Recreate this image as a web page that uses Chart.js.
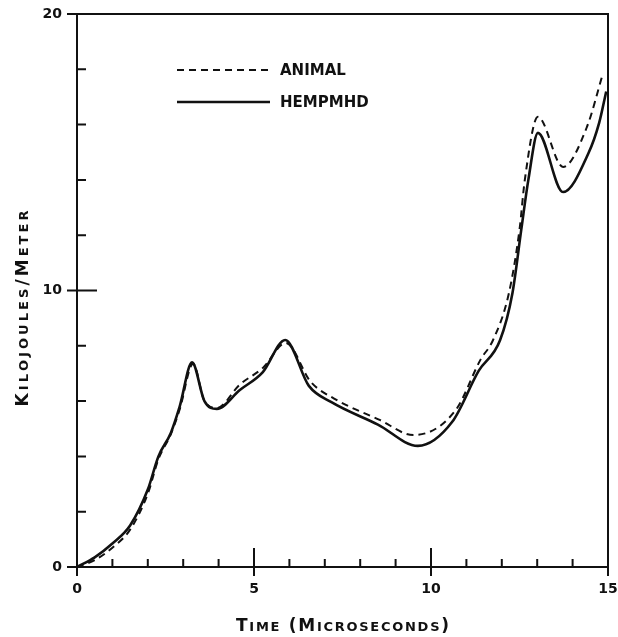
<!DOCTYPE html>
<html>
<head>
<meta charset="utf-8">
<script src="https://cdn.jsdelivr.net/npm/chart.js@4.4.1/dist/chart.umd.min.js"></script>
<style>
  html, body { margin: 0; padding: 0; background: #fff; }
  #wrap { width: 618px; height: 637px; }
</style>
</head>
<body>
<div id="wrap"><canvas id="energyChart"></canvas></div>
<script>
// values (time in microseconds, kJ/m)
const animalTime   = [0, 0.5, 1.0, 1.5, 2.0, 2.3, 2.65, 2.9, 3.28, 3.6, 3.95, 4.6, 5.25, 5.9, 6.6, 7.25, 8.55, 9.5, 10.7, 11.4, 11.75, 12.2, 12.5, 12.65, 13.02, 13.73, 14.4, 14.86];
const animalEnergy = [0, 0.25, 0.7, 1.35, 2.65, 3.9, 4.8, 5.7, 7.35, 6.0, 5.75, 6.6, 7.2, 8.1, 6.7, 6.1, 5.32, 4.77, 5.68, 7.5, 8.2, 9.9, 12.2, 14.0, 16.28, 14.47, 15.9, 17.86];

const hempTime   = [0, 0.5, 1.0, 1.5, 2.0, 2.3, 2.65, 2.9, 3.25, 3.6, 3.95, 4.6, 5.25, 5.88, 6.55, 7.2, 8.5, 9.63, 10.6, 11.35, 11.95, 12.3, 12.55, 12.75, 13.02, 13.73, 14.45, 14.75, 14.95];
const hempEnergy = [0, 0.35, 0.85, 1.5, 2.8, 4.0, 4.85, 5.8, 7.4, 6.0, 5.72, 6.4, 7.05, 8.21, 6.55, 5.95, 5.15, 4.38, 5.25, 7.1, 8.2, 9.9, 12.2, 14.0, 15.7, 13.56, 14.97, 16.06, 17.2];

const seriesNames = ['ANIMAL', 'HEMPMHD'];
const xLabelled = [0, 5, 10, 15];
const yLabelled = [0, 10, 20];
const xTitle = 'Time (Microseconds)';
const yTitle = 'Kilojoules/Meter';

const toPoints = (xs, ys) => xs.map((x, i) => ({ x: x, y: ys[i] }));

// small caps: capitals large, lower case drawn as small capitals
function drawSmallCaps(ctx, text, cx, cy, width, big, small) {
  const parts = [...text].map(ch => {
    const lower = ch !== ch.toUpperCase();
    return { ch: ch.toUpperCase(), font: 'bold ' + (lower ? small : big) + 'px "DejaVu Sans"' };
  });
  let natural = 0;
  parts.forEach(p => { ctx.font = p.font; p.w = ctx.measureText(p.ch).width; natural += p.w; });
  const gap = (width - natural) / (parts.length - 1);
  let x = cx - width / 2;
  ctx.textBaseline = 'alphabetic';
  ctx.textAlign = 'left';
  parts.forEach(p => {
    ctx.font = p.font;
    ctx.fillText(p.ch, x, cy + big * 0.36);
    x += p.w + gap;
  });
}

// no extra room for overhanging tick labels, the plot box is fixed
const fixBox = size => s => {
  Object.assign(s, size);
  s.paddingTop = 0; s.paddingBottom = 0; s.paddingLeft = 0; s.paddingRight = 0;
};

const frameAndTicks = {
  id: 'frameAndTicks',
  afterDraw(chart) {
    const { ctx, chartArea: a, scales: { x, y } } = chart;
    ctx.save();
    ctx.strokeStyle = '#111';
    ctx.lineWidth = 2;
    ctx.beginPath();
    ctx.moveTo(a.left, a.top); ctx.lineTo(a.right, a.top); ctx.lineTo(a.right, a.bottom + 9);
    ctx.moveTo(a.left, a.top); ctx.lineTo(a.left, a.bottom + 9);
    ctx.moveTo(a.left, a.bottom); ctx.lineTo(a.right, a.bottom);
    y.ticks.forEach(t => {
      const py = y.getPixelForValue(t.value);
      if (yLabelled.includes(t.value)) {
        ctx.moveTo(a.left - 10, py);
        ctx.lineTo(a.left + (t.value === 10 ? 20 : 0), py);
      } else {
        ctx.moveTo(a.left, py); ctx.lineTo(a.left + 9, py);
      }
    });
    x.ticks.forEach(t => {
      const px = x.getPixelForValue(t.value);
      if (xLabelled.includes(t.value)) {
        ctx.moveTo(px, a.bottom - 19); ctx.lineTo(px, a.bottom + 9);
      } else {
        ctx.moveTo(px, a.bottom - 8); ctx.lineTo(px, a.bottom);
      }
    });
    ctx.stroke();

    // legend inside the plot
    const lx = a.left + 100, len = 93;
    chart.data.datasets.forEach((ds, i) => {
      const ly = a.top + 56 + i * 32;
      ctx.beginPath();
      ctx.setLineDash(ds.borderDash || []);
      ctx.lineWidth = ds.borderWidth;
      ctx.moveTo(lx, ly); ctx.lineTo(lx + len, ly);
      ctx.stroke();
      ctx.setLineDash([]);
      ctx.fillStyle = '#111';
      ctx.font = 'bold 15px "DejaVu Sans"';
      ctx.textAlign = 'left';
      ctx.textBaseline = 'middle';
      ctx.fillText(ds.label, lx + len + 10, ly + 1);
    });

    // axis titles
    ctx.fillStyle = '#111';
    drawSmallCaps(ctx, xTitle, (a.left + a.right) / 2, 625, 213, 17, 13);
    ctx.save();
    ctx.translate(22, (a.top + a.bottom) / 2 + 18);
    ctx.rotate(-Math.PI / 2);
    drawSmallCaps(ctx, yTitle, 0, 0, 196, 17, 13);
    ctx.restore();
    ctx.restore();
  }
};

new Chart(document.getElementById('energyChart').getContext('2d'), {
  type: 'scatter',
  data: {
    datasets: [{
      label: seriesNames[0],
      data: toPoints(animalTime, animalEnergy),
      showLine: true,
      borderColor: '#111',
      borderWidth: 2,
      borderDash: [7, 5],
      pointRadius: 0,
      cubicInterpolationMode: 'monotone',
      clip: false
    }, {
      label: seriesNames[1],
      data: toPoints(hempTime, hempEnergy),
      showLine: true,
      borderColor: '#111',
      borderWidth: 2.6,
      pointRadius: 0,
      cubicInterpolationMode: 'monotone',
      clip: false
    }]
  },
  options: {
    responsive: true,
    maintainAspectRatio: false,
    animation: false,
    layout: { padding: { top: 14, right: 10, left: 0, bottom: 0 } },
    plugins: {
      legend: { display: false },
      tooltip: { enabled: false }
    },
    scales: {
      x: {
        type: 'linear',
        min: 0,
        max: 15,
        grid: { display: false, drawTicks: false },
        border: { display: false },
        ticks: {
          stepSize: 1,
          padding: 14,
          color: '#111',
          font: { family: 'DejaVu Sans', weight: 'bold', size: 14 },
          maxRotation: 0,
          callback: v => xLabelled.includes(v) ? String(v) : ''
        },
        afterFit: fixBox({ height: 70 })
      },
      y: {
        min: 0,
        max: 20,
        grid: { display: false, drawTicks: false },
        border: { display: false },
        ticks: {
          stepSize: 2,
          padding: 15,
          color: '#111',
          font: { family: 'DejaVu Sans', weight: 'bold', size: 14 },
          callback: v => yLabelled.includes(v) ? String(v) : ''
        },
        afterFit: fixBox({ width: 77 })
      }
    }
  },
  plugins: [frameAndTicks]
});
</script>
</body>
</html>
